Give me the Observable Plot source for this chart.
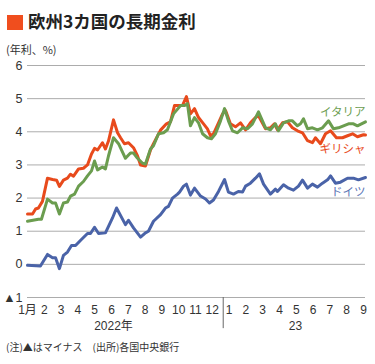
<!DOCTYPE html>
<html><head><meta charset="utf-8">
<script src="https://cdn.jsdelivr.net/npm/d3@7"></script>
<script src="https://cdn.jsdelivr.net/npm/@observablehq/plot@0.6"></script>
<style>
  html,body{margin:0;padding:0;background:#fff;}
  #wrap{position:relative;width:375px;height:364px;overflow:hidden;font-family:"Noto Sans CJK JP","Liberation Sans",sans-serif;color:#333;}
  #title{position:absolute;left:7px;top:10px;height:22px;line-height:22px;font-size:17.5px;font-weight:700;color:#222;white-space:nowrap;}
  #title .sq{display:inline-block;width:16px;height:15px;background:#f04e1e;vertical-align:-2px;margin-right:5px;}
  #sub{position:absolute;left:6px;top:42px;font-size:11px;line-height:14px;color:#333;}
  #chart{position:absolute;left:0;top:56px;}
  #note{position:absolute;left:6px;top:340px;font-size:10px;line-height:14px;color:#333;white-space:nowrap;}
</style>
</head><body>
<div id="wrap">
  <div id="title"><span class="sq"></span>欧州3カ国の長期金利</div>
  <div id="sub">(年利、%)</div>
  <div id="chart"></div>
  <div id="note">(注)▲はマイナス　(出所)各国中央銀行</div>
</div>
<script>
// months since Jan 2022 (0 = Jan 2022, 20 = Sep 2023)
const germanyT = [0,0.77,1.19,1.49,1.67,1.90,2.14,2.38,2.62,2.86,3.15,3.57,3.75,3.99,4.23,4.64,5.06,5.30,5.83,6.01,6.31,6.73,7.02,7.20,7.50,7.92,8.21,8.39,8.63,8.93,9.05,9.29,9.46,9.70,9.94,10.30,10.60,10.83,11.07,11.37,11.73,11.96,12.26,12.55,12.80,12.98,13.27,13.57,13.81,14.05,14.46,14.76,14.88,15.24,15.54,15.83,16.13,16.37,16.67,16.96,17.26,17.56,17.86,18.04,18.33,18.63,19.05,19.40,19.70,20.12];
const germanyV = [-0.03,-0.05,0.30,0.20,0.20,-0.13,0.27,0.37,0.57,0.57,0.72,0.93,0.93,1.12,0.93,0.95,1.40,1.70,1.20,1.33,1.10,0.82,0.95,1.00,1.30,1.50,1.70,1.75,2.00,2.12,2.18,2.36,2.42,2.09,2.30,2.06,1.97,1.85,1.94,2.20,2.56,2.18,2.12,2.20,2.18,2.36,2.45,2.60,2.73,2.42,2.12,2.27,2.20,2.40,2.30,2.24,2.36,2.54,2.30,2.42,2.33,2.45,2.55,2.67,2.45,2.48,2.60,2.60,2.55,2.62];

const greeceT = [0,0.30,0.48,0.65,0.89,1.19,1.49,1.73,1.90,2.14,2.38,2.56,2.74,3.04,3.33,3.57,3.81,3.99,4.17,4.46,4.64,4.82,5.12,5.36,5.54,5.77,6.01,6.31,6.55,6.73,7.02,7.32,7.50,7.92,8.27,8.51,8.75,9.05,9.23,9.46,9.70,9.94,10.18,10.48,10.71,10.89,11.07,11.37,11.61,11.79,12.08,12.38,12.68,12.98,13.27,13.57,13.75,14.17,14.46,14.70,14.88,15.18,15.48,15.77,16.07,16.37,16.67,16.96,17.14,17.44,17.74,18.04,18.39,18.75,19.05,19.35,19.64,20.00,20.12];
const greeceV = [1.52,1.52,1.67,1.70,1.90,2.60,2.56,2.54,2.35,2.54,2.60,2.72,2.66,2.88,2.90,3.00,3.33,3.50,3.45,3.67,3.48,3.72,4.36,3.97,3.82,3.64,3.67,3.52,3.27,3.00,2.97,3.45,3.64,4.05,4.24,4.30,4.79,4.79,4.80,5.06,4.54,4.70,4.43,4.24,4.09,3.88,3.94,4.27,4.54,4.64,4.24,4.15,4.27,4.06,4.27,4.43,4.48,4.09,4.12,4.24,4.06,4.27,4.30,4.12,4.03,3.97,3.73,3.67,3.82,3.64,3.94,4.03,3.82,3.82,3.88,3.94,3.85,3.91,3.90];

const italyT = [0,0.65,0.83,1.19,1.49,1.67,1.90,2.14,2.38,2.56,2.80,3.04,3.33,3.57,3.81,3.99,4.17,4.46,4.64,4.82,5.12,5.42,5.83,6.13,6.31,6.55,6.85,7.02,7.32,7.50,7.80,8.10,8.33,8.69,9.11,9.35,9.52,9.70,9.94,10.18,10.42,10.71,10.95,11.19,11.49,11.73,11.96,12.20,12.50,12.80,13.10,13.39,13.75,14.17,14.46,14.76,14.94,15.24,15.54,15.77,16.07,16.25,16.43,16.67,16.96,17.26,17.56,17.92,18.21,18.51,18.81,19.11,19.40,19.64,20.12];
const italyV = [1.30,1.36,1.36,1.97,1.85,1.85,1.52,1.85,1.88,2.06,2.12,2.36,2.50,2.67,2.82,3.12,2.85,2.94,2.88,3.27,3.82,3.64,3.20,3.36,3.36,3.20,3.05,3.03,3.48,3.58,3.94,3.97,4.06,4.54,4.79,4.79,4.85,4.18,4.43,4.27,3.94,3.82,3.79,3.94,4.33,4.70,4.33,4.03,3.97,4.12,4.09,4.24,4.60,4.12,4.06,4.24,4.03,4.27,4.33,4.33,4.18,4.24,4.39,4.09,4.12,4.06,4.12,4.33,4.09,4.12,4.18,4.24,4.24,4.18,4.30];

const yTicks = [-1,0,1,2,3,4,5,6];
const monthTicks = d3.range(21);
const monthLabels = ["1月","2","3","4","5","6","7","8","9","10","11","12","1","2","3","4","5","6","7","8","9"];
const yearLabels = ["2022年","23"];
const seriesNames = ["イタリア","ギリシャ","ドイツ"];

const colors = {it:"#6b9d4f", gr:"#e84a1c", de:"#4a63a8"};
const toRows = (T,V) => T.map((t,i)=>({t, v:V[i]}));
const de = toRows(germanyT, germanyV);
const gr = toRows(greeceT, greeceV);
const it = toRows(italyT, italyV);

const labelRows = [
  {name:seriesNames[0], y:4.6, c:colors.it, w:400},
  {name:seriesNames[1], y:3.48, c:colors.gr, w:700},
  {name:seriesNames[2], y:2.18, c:"#5b74b5", w:400}
];
const yearRows = [{name:yearLabels[0], x:5.12},{name:yearLabels[1], x:15.95}];

const chart = Plot.plot({
  width: 375, height: 280,
  marginTop: 9, marginBottom: 39, marginLeft: 27, marginRight: 10,
  x: {domain:[0,20.12]},
  y: {domain:[-1,6]},
  style: {fontFamily:'"Liberation Sans","Noto Sans CJK JP",sans-serif', color:"#333", background:"transparent", overflow:"visible"},
  marks: [
    Plot.gridY(yTicks, {stroke:"#acacac", strokeOpacity:1, strokeWidth:1}),
    Plot.axisY(yTicks, {tickSize:0, tickPadding:5, fontSize:12.5, label:null, tickFormat: d => d < 0 ? "▲" + (-d) : String(d)}),
    Plot.axisX(monthTicks, {tickSize:0, tickPadding:8, fontSize:12, label:null, tickFormat: i => monthLabels[i], fontFamily:'"Liberation Sans","Noto Sans CJK JP",sans-serif'}),
    Plot.ruleX([11.65], {y1:-1, y2:-1.94, stroke:"#666", strokeWidth:1}),
    Plot.text(yearRows, {x:"x", y:()=>-1, dy:29, text:"name", fontSize:12, fill:"#333", fontFamily:'"Liberation Sans","Noto Sans CJK JP",sans-serif'}),
    Plot.line(de, {x:"t", y:"v", stroke:colors.de, strokeWidth:3, strokeLinejoin:"round"}),
    Plot.line(gr, {x:"t", y:"v", stroke:colors.gr, strokeWidth:3, strokeLinejoin:"round"}),
    Plot.line(it, {x:"t", y:"v", stroke:colors.it, strokeWidth:3, strokeLinejoin:"round"}),
    Plot.text(labelRows, {x:()=>20.12, y:"y", text:"name", fill:"c", fontWeight:"w", textAnchor:"end", fontSize:11.5, fontFamily:'"Noto Sans CJK JP",sans-serif'})
  ]
});
document.getElementById("chart").appendChild(chart);
</script>
</body></html>
